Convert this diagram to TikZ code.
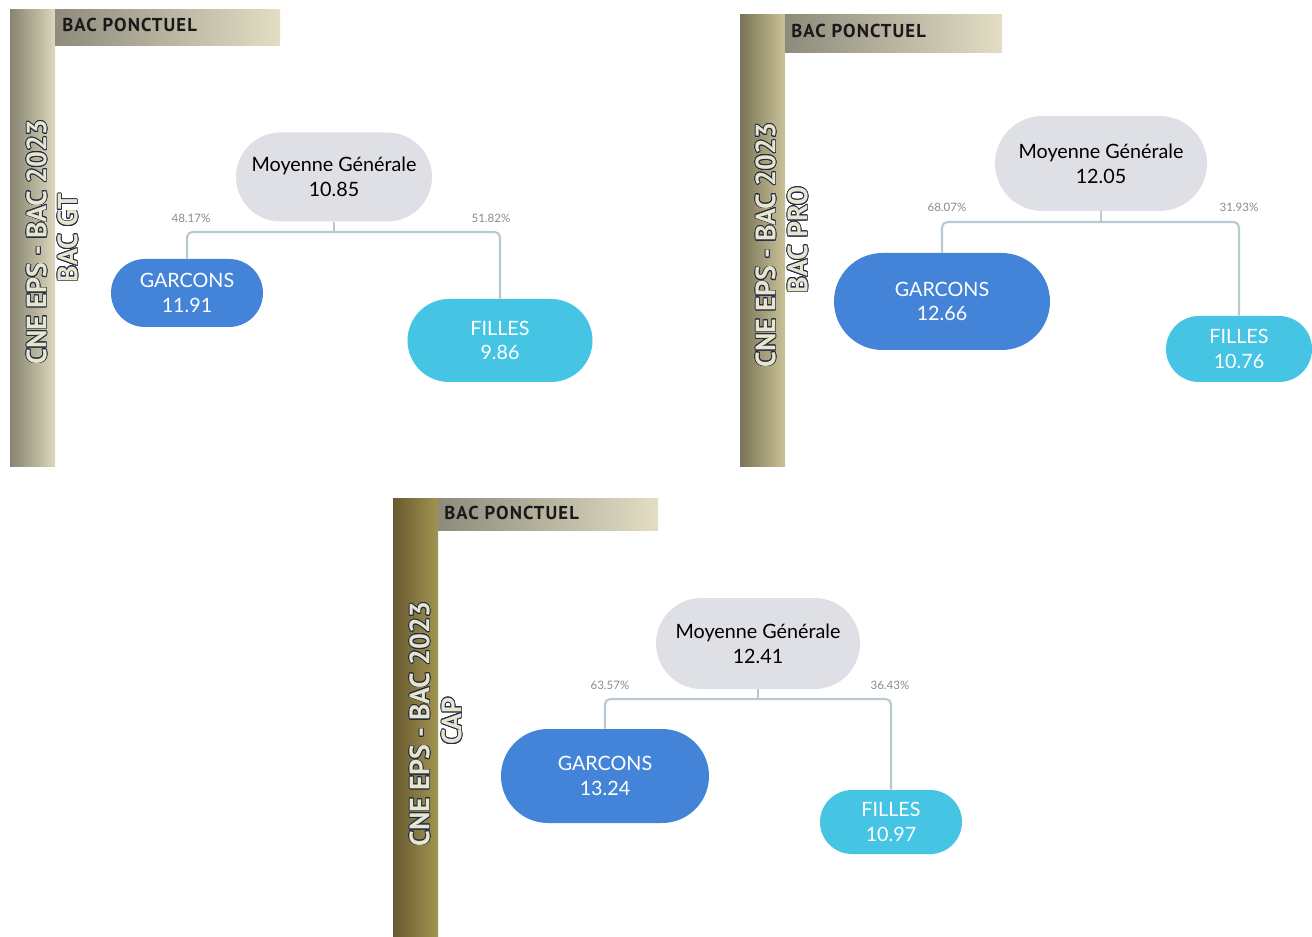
\documentclass[tikz,border=0pt]{standalone}
\usepackage{fontspec}
\setmainfont{Lato}
\newfontfamily\hdrfont{PT Sans}
\newfontfamily\hdrwide[LetterSpace=6]{PT Sans}
\usepackage{contour}
\contourlength{0.6pt}
\usetikzlibrary{shapes.misc}
\definecolor{moyfill}{HTML}{DFE0E5}
\definecolor{garfill}{HTML}{4384D9}
\definecolor{filfill}{HTML}{45C4E4}
\definecolor{connc}{HTML}{B9C9D2}
\definecolor{pctc}{HTML}{8A8A8A}
\definecolor{vtxt}{HTML}{E9E5CC}
\definecolor{vout}{HTML}{1E2B45}
\tikzset{
  x=0.75pt, y=-0.75pt,
  pill/.style={rounded rectangle, inner sep=0pt, align=center, font=\fontsize{14.8}{18.5}\selectfont},
  moy/.style={pill, fill=moyfill, text=black},
  gar/.style={pill, fill=garfill, text=white},
  fil/.style={pill, fill=filfill, text=white},
  conn/.style={draw=connc, line width=1.6pt, rounded corners=4pt},
  pct/.style={font=\fontsize{8.7}{10}\selectfont, text=pctc, inner sep=0pt},
  hdr/.style={font=\hdrwide\bfseries\fontsize{14}{15}\selectfont, anchor=west, inner sep=0pt, text=black!90},
  vbig/.style={rotate=90, inner sep=0pt, font=\hdrfont\bfseries\fontsize{21}{22}\selectfont, text=vtxt},
}
\begin{document}
\begin{tikzpicture}
\useasboundingbox (0,0) rectangle (1312,937);
% ---------- Panel 1 ----------
\shade[left color={rgb,255:red,134;green,131;blue,111}, right color={rgb,255:red,220;green,215;blue,188}] (10,10) rectangle (55,466);
\shade[left color={rgb,255:red,142;green,139;blue,124}, right color={rgb,255:red,227;green,221;blue,196}] (55,10) rectangle (280,46);
\node[hdr] (h1) at (62,25) {BAC PONCTUEL};
\node[vbig] (v1a) at (37,242) {\contour{vout}{CNE EPS - BAC 2023}};
\node[vbig] (v1b) at (68,238) {\contour{vout}{BAC GT}};
\node[moy, minimum width=147pt, minimum height=66.75pt] (m1) at (334,177) {Moyenne Générale\\10.85};
\node[gar, minimum width=114pt, minimum height=51pt] (g1) at (187,293) {GARCONS\\11.91};
\node[fil, minimum width=138.75pt, minimum height=62.25pt] (f1) at (500,340.5) {FILLES\\9.86};
\coordinate (b1) at (334,232);
\draw[conn] (g1.north) |- (b1) -| (f1.north);
\draw[conn] (m1.south) -- (b1);
\node[pct] (p1a) at (191,218) {48.17\%};
\node[pct] (p1b) at (491,218) {51.82\%};
% ---------- Panel 2 ----------
\shade[left color={rgb,255:red,122;green,115;blue,85}, right color={rgb,255:red,201;green,194;blue,152}] (740,15) rectangle (785,466);
\shade[left color={rgb,255:red,142;green,139;blue,124}, right color={rgb,255:red,227;green,221;blue,196}] (785,15) rectangle (1002,53);
\node[hdr] (h2) at (791,31) {BAC PONCTUEL};
\node[vbig] (v2a) at (766,245) {\contour{vout}{CNE EPS - BAC 2023}};
\node[vbig] (v2b) at (798,240) {\contour{vout}{BAC PRO}};
\node[moy, minimum width=159pt, minimum height=71.25pt] (m2) at (1101,163.5) {Moyenne Générale\\12.05};
\node[gar, minimum width=162pt, minimum height=72.75pt] (g2) at (942,301.5) {GARCONS\\12.66};
\node[fil, minimum width=109.5pt, minimum height=49.5pt] (f2) at (1239,349) {FILLES\\10.76};
\coordinate (b2) at (1101,222);
\draw[conn] (g2.north) |- (b2) -| (f2.north);
\draw[conn] (m2.south) -- (b2);
\node[pct] (p2a) at (947,207) {68.07\%};
\node[pct] (p2b) at (1239,207) {31.93\%};
% ---------- Panel 3 ----------
\shade[left color={rgb,255:red,104;green,90;blue,46}, right color={rgb,255:red,161;green,147;blue,82}] (393,498) rectangle (438,937);
\shade[left color={rgb,255:red,142;green,139;blue,124}, right color={rgb,255:red,227;green,221;blue,196}] (438,498) rectangle (658,530);
\node[hdr] (h3) at (444,513) {BAC PONCTUEL};
\node[vbig] (v3a) at (420,724) {\contour{vout}{CNE EPS - BAC 2023}};
\node[vbig] (v3b) at (452,721) {\contour{vout}{CAP}};
\node[moy, minimum width=153pt, minimum height=68.25pt] (m3) at (758,643.5) {Moyenne Générale\\12.41};
\node[gar, minimum width=156pt, minimum height=70.5pt] (g3) at (605,776) {GARCONS\\13.24};
\node[fil, minimum width=106.5pt, minimum height=48pt] (f3) at (891,822) {FILLES\\10.97};
\coordinate (b3) at (758,699);
\draw[conn] (g3.north) |- (b3) -| (f3.north);
\draw[conn] (m3.south) -- (b3);
\node[pct] (p3a) at (610,685) {63.57\%};
\node[pct] (p3b) at (890,685) {36.43\%};
\end{tikzpicture}
\end{document}
